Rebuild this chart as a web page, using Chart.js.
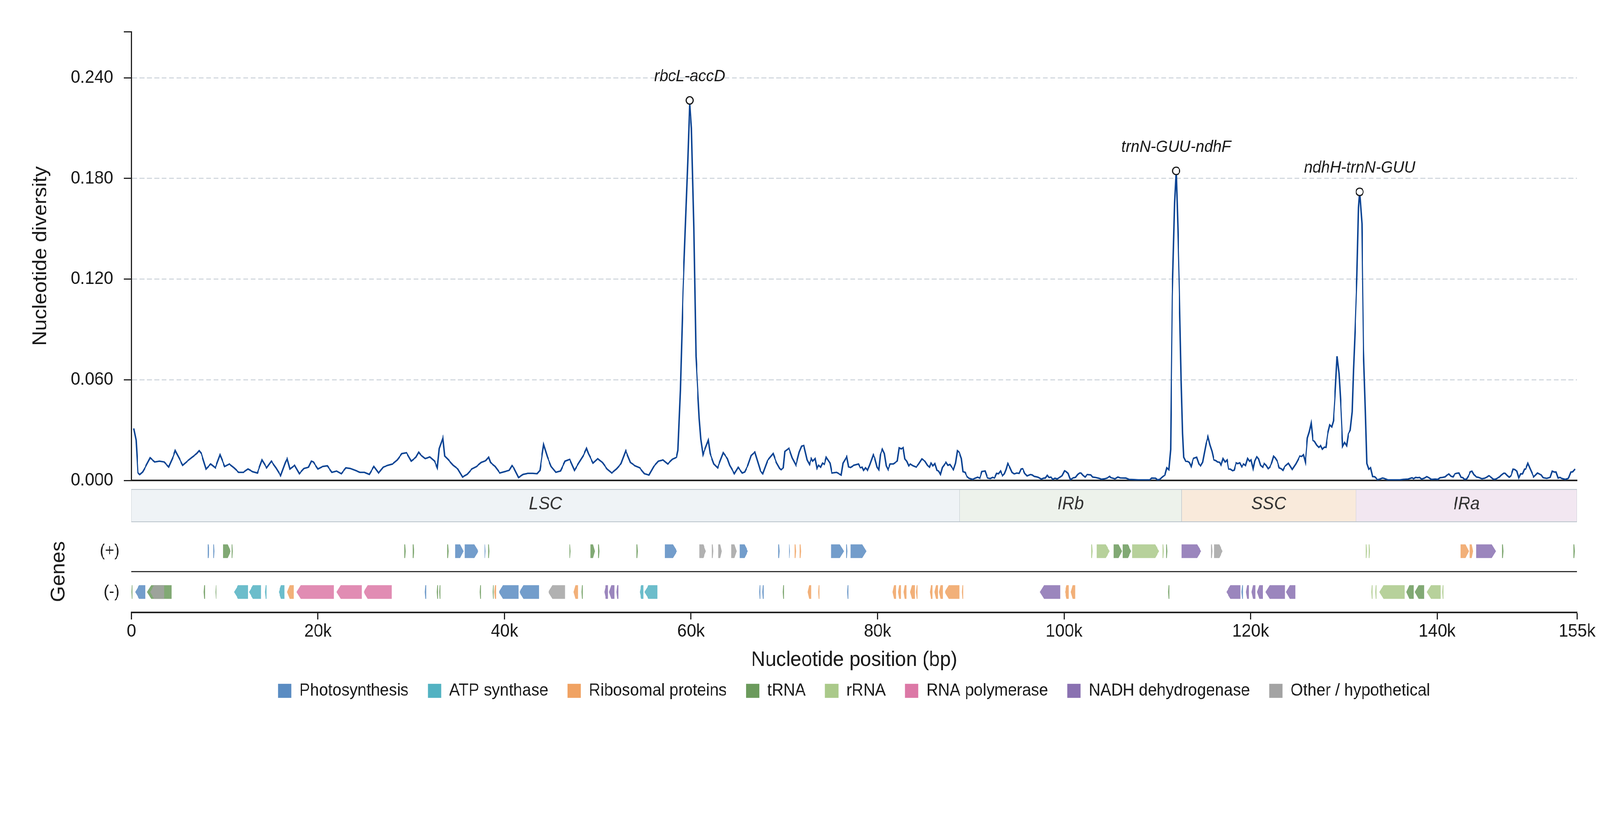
<!DOCTYPE html>
<html><head><meta charset="utf-8">
<script src="https://cdn.jsdelivr.net/npm/chart.js@4.4.1/dist/chart.umd.min.js"></script>
<style>
html,body{margin:0;padding:0;background:#fff;overflow:hidden}
#stage{position:absolute;left:0;top:0;width:4322px;height:2102px;transform-origin:0 0;background:#fff}
.box{position:absolute}
</style></head><body>
<div id="stage">
<div class="box" style="left:0;top:0;width:4322px;height:1245px"><canvas id="cDiv"></canvas></div>
<div class="box" style="left:0;top:1245px;width:4322px;height:100px"><canvas id="cReg"></canvas></div>
<div class="box" style="left:0;top:1340px;width:4322px;height:400px"><canvas id="cGene"></canvas></div>
<div class="box" style="left:507px;top:1695px;width:3600px;height:200px"><canvas id="cLeg"></canvas></div>
</div>
<script>
// ---------------- data ----------------
const positionsKb = [
0.25,0.5,0.7,0.9,1.2,1.5,2.0,2.5,3.0,3.5,
4.0,4.5,4.7,5.0,5.5,6.0,6.5,7.0,7.26,7.5,
8.0,8.5,9.0,9.5,10.0,10.5,11.0,11.5,12.0,12.5,
13.0,13.5,14.0,14.5,15.0,15.5,16.0,16.5,16.7,17.0,
17.5,18.0,18.5,19.0,19.3,19.5,20.0,20.5,21.0,21.5,
22.0,22.5,23.0,23.5,24.0,24.5,25.0,25.5,26.0,
26.5,27.0,27.5,28.0,28.5,29.0,29.5,30.0,30.5,30.8,
31.0,31.5,32.0,32.5,32.8,33.0,33.4,33.6,34.0,34.5,
35.0,35.5,36.0,36.5,37.0,37.5,38.0,38.3,38.5,39.0,
39.5,40.0,40.5,40.8,41.0,41.5,42.0,42.5,43.0,43.5,
43.8,44.2,44.6,45.0,45.5,46.0,46.5,47.0,47.5,48.0,
48.5,48.8,49.0,49.5,50.0,50.5,51.0,51.5,52.0,52.5,
53.0,53.5,54.0,54.5,55.0,55.5,56.0,56.5,57.0,57.5,
58.0,58.45,58.6,58.86,59.14,59.42,59.65,59.86,60.05,60.3,
60.53,60.88,61.05,61.28,61.85,62.05,62.45,62.85,63.45,63.9,
64.15,64.65,65.05,65.5,65.75,66.1,66.45,66.85,67.1,67.45,
67.7,68.2,68.8,69.15,69.5,69.65,69.9,70.07,70.5,70.85,
71.25,71.6,71.85,72.1,72.45,72.7,72.9,73.05,73.3,73.5,
73.7,73.9,74.1,74.3,74.5,74.9,75.1,75.6,76.1,76.3,
76.7,76.9,77.1,77.45,77.95,78.15,78.35,78.5,78.7,
78.93,79.15,79.54,79.7,79.95,80.13,80.3,80.52,80.73,80.93,
81.13,81.35,81.69,82.12,82.32,82.53,82.75,82.93,83.13,83.34,
83.51,83.81,84.15,84.41,84.75,85.09,85.35,85.56,85.73,85.94,
86.14,86.36,86.56,86.75,86.95,87.34,87.55,87.75,88.14,88.36,
88.56,88.77,88.99,89.16,89.38,89.58,89.79,90.17,90.46,90.73,
90.97,91.19,91.53,91.78,92.09,92.33,92.55,92.77,92.97,93.18,
93.4,93.6,93.77,93.96,94.16,94.42,94.64,94.93,95.18,95.39,
95.57,95.78,96.03,96.37,96.58,96.8,97.22,97.56,97.82,98.0,
98.2,98.39,98.6,98.8,99.02,99.24,99.53,99.78,100.04,100.21,
100.43,100.67,100.97,101.22,101.45,101.65,101.82,102.03,102.25,102.47,
102.85,103.05,103.36,103.7,104.04,104.38,104.64,104.9,
105.0,105.46,105.77,106.02,106.62,106.95,107.46,107.97,108.65,109.16,
109.41,109.8,110.01,110.26,110.6,110.82,111.02,111.23,111.42,111.6,
111.85,112.02,112.2,112.35,112.56,112.7,112.82,113.03,113.26,113.43,
113.62,113.86,114.21,114.45,114.64,114.86,115.23,115.43,115.64,115.86,
116.06,116.28,116.45,116.67,116.83,117.05,117.27,117.47,117.64,117.84,
118.06,118.23,118.45,118.62,118.83,119.05,119.25,119.45,119.67,119.88,
120.05,120.27,120.44,120.66,120.86,121.07,121.29,121.46,121.66,121.88,
122.05,122.27,122.47,122.64,122.86,123.07,123.27,123.46,123.66,124.05,
124.46,124.85,125.07,125.27,125.48,125.66,125.87,126.09,126.29,126.49,
126.68,126.85,127.09,127.31,127.51,127.7,127.9,128.07,128.27,128.49,
128.7,128.88,
129.05,129.27,129.48,129.68,129.87,130.08,130.29,130.48,130.68,130.89,
131.03,131.2,131.4,131.57,131.69,131.93,132.1,132.3,132.46,132.66,
132.87,133.09,133.3,133.61,133.87,134.12,134.33,134.73,135.33,136.02,
136.36,136.88,137.31,137.48,137.7,137.9,138.12,138.34,138.6,138.89,
139.12,139.37,139.8,140.06,140.29,140.58,140.84,141.04,141.27,141.49,
141.7,141.9,142.13,142.33,142.56,142.75,142.94,143.15,143.38,143.56,
143.73,143.93,144.19,144.45,144.79,145.1,145.31,145.54,145.74,146.0,
146.17,146.43,146.69,146.86,147.12,147.29,147.52,147.72,147.93,148.15,
148.32,148.53,148.75,148.96,149.15,149.36,149.49,149.73,149.96,150.35,
150.53,150.75,150.96,151.16,151.37,151.76,152.11,152.33,152.54,152.75,
152.97,153.14,153.37,153.74,154.09,154.35,154.52,154.78
];
const diversity = [
0.031,0.024,0.0045,0.0035,0.005,0.008,0.0135,0.011,0.0115,0.011,
0.008,0.0145,0.0178,0.0145,0.009,0.0115,0.0138,0.016,0.0177,0.016,
0.0068,0.0098,0.0075,0.0153,0.0083,0.0098,0.0075,0.0048,0.0048,0.0068,
0.0052,0.0044,0.0122,0.0075,0.0115,0.0075,0.0028,0.0107,0.013,0.0068,
0.009,0.004,0.0071,0.0079,0.0115,0.011,0.0068,0.0083,0.0087,0.0048,
0.0056,0.004,0.0075,0.0071,0.006,0.0048,0.0048,0.0036,0.0083,
0.0044,0.0079,0.009,0.0098,0.0122,0.016,0.0165,0.0115,0.0138,0.0168,
0.0153,0.013,0.014,0.0115,0.0075,0.019,0.0255,0.0145,0.0122,0.009,
0.0068,0.002,0.0036,0.0068,0.0083,0.0107,0.0118,0.0138,0.0107,0.0083,
0.0044,0.0052,0.006,0.0088,0.0075,0.0017,0.0036,0.0042,0.0042,0.004,
0.006,0.0214,0.014,0.0083,0.0048,0.0056,0.0115,0.0126,0.006,0.0107,
0.0153,0.0191,0.016,0.0103,0.013,0.0107,0.0068,0.0044,0.0068,0.010,
0.0177,0.0107,0.0087,0.0075,0.004,0.0032,0.0083,0.0115,0.0122,0.0098,
0.0126,0.0138,0.018,0.054,0.112,0.155,0.19,0.2265,0.21,0.151,
0.074,0.037,0.0246,0.0153,0.024,0.016,0.0098,0.0075,0.0165,0.013,
0.009,0.004,0.0078,0.0044,0.005,0.009,0.0149,0.0169,0.0122,0.0056,
0.004,0.0118,0.016,0.0107,0.0071,0.0064,0.0075,0.0173,0.0192,0.0134,
0.009,0.0169,0.0204,0.0208,0.0122,0.0095,0.0131,0.0115,0.013,0.0071,
0.009,0.0079,0.0103,0.0095,0.0138,0.0103,0.0044,0.0048,0.0032,0.0103,
0.0142,0.0081,0.0077,0.009,0.0098,0.0075,0.0079,0.006,0.0075,
0.006,0.009,0.0153,0.0134,0.0079,0.0064,0.0153,0.0186,0.016,0.0087,
0.0064,0.0098,0.0098,0.0116,0.0194,0.0188,0.0196,0.0128,0.0114,0.0087,
0.0098,0.0087,0.0079,0.0098,0.0128,0.0114,0.009,0.0079,0.0105,0.0087,
0.01,0.006,0.0056,0.0036,0.0077,0.0108,0.009,0.0095,0.0064,0.0103,
0.0177,0.0167,0.013,0.0052,0.0048,0.0024,0.0013,0.0006,0.0013,0.0019,
0.0013,0.0053,0.0056,0.0015,0.0011,0.0018,0.0014,0.0042,0.004,0.0056,
0.0028,0.004,0.0064,0.0101,0.0081,0.0048,0.0039,0.0044,0.0042,0.0068,
0.007,0.0042,0.0027,0.0035,0.0033,0.0024,0.0019,0.0008,0.0014,0.0014,
0.003,0.0017,0.002,0.0006,0.0013,0.0009,0.0018,0.0028,0.0057,0.0053,
0.0042,0.0005,0.0015,0.0018,0.0035,0.0044,0.0044,0.003,0.002,0.0035,
0.0033,0.002,0.0018,0.0013,0.0007,0.001,0.0015,0.0024,
0.0017,0.0009,0.002,0.0015,0.0014,0.0006,0.0005,0.0003,0.0003,0.0003,
0.0014,0.0013,0.0003,0.0006,0.0024,0.0032,0.0075,0.0064,0.0185,0.11,
0.165,0.1845,0.15,0.115,0.058,0.028,0.0138,0.0114,0.0113,0.0107,
0.0083,0.0131,0.0138,0.0098,0.0087,0.0108,0.022,0.0261,0.0212,0.0173,
0.0122,0.0118,0.011,0.0108,0.009,0.013,0.011,0.0122,0.0068,0.0067,
0.0058,0.0061,0.0105,0.01,0.0105,0.0081,0.0098,0.0089,0.0131,0.0113,
0.0122,0.007,0.0116,0.0142,0.0128,0.009,0.0079,0.0101,0.009,0.007,
0.0079,0.0105,0.0144,0.0134,0.0114,0.0075,0.007,0.006,0.0083,0.0102,
0.0064,0.0098,0.0122,0.0145,0.0143,0.0153,0.0108,0.0253,0.029,0.0341,
0.0238,0.0233,0.021,0.0197,0.0208,0.0186,0.0198,0.0197,0.0278,0.0331,
0.0319,0.0355,
0.0502,0.074,0.0636,0.0441,0.0203,0.0226,0.0207,0.0278,0.0299,0.0409,
0.0659,0.09,0.122,0.1627,0.172,0.153,0.078,0.042,0.0101,0.0067,
0.0076,0.0023,0.0022,0.0004,0.0008,0.0014,0.0012,0.0003,0.0003,0.0003,
0.0006,0.0008,0.0016,0.001,0.0018,0.0016,0.0018,0.0008,0.0013,0.0023,
0.0016,0.0006,0.0008,0.0006,0.0016,0.0018,0.0021,0.0031,0.0038,0.0025,
0.0021,0.0039,0.0043,0.0044,0.0018,0.0017,0.0006,0.0008,0.0029,0.0051,
0.0055,0.0035,0.0021,0.0018,0.001,0.0013,0.0019,0.0028,0.0021,0.0008,
0.0006,0.0012,0.0021,0.0031,0.0043,0.0043,0.0029,0.0019,0.0029,0.0067,
0.0065,0.0055,0.0013,0.0039,0.0039,0.0067,0.0067,0.0102,0.0071,0.0021,
0.0031,0.0044,0.0038,0.0033,0.0016,0.0012,0.0018,0.0055,0.005,0.005,
0.0014,0.0018,0.0012,0.0006,0.0013,0.005,0.0051,0.0068
];

const peakPositionsKb = [59.86, 112.02, 131.69];
const peakLabels = ['rbcL-accD', 'trnN-GUU-ndhF', 'ndhH-trnN-GUU'];

const yTicks = [0, 0.06, 0.12, 0.18, 0.24];
const yAxisMax = 0.2675;
const xTicksKb = [0, 20, 40, 60, 80, 100, 120, 140, 155];
const genomeLengthKb = 155;

const regionNames = ['LSC', 'IRb', 'SSC', 'IRa'];
const regionStartKb = [0, 88.8, 112.6, 131.3];
const regionEndKb = [88.8, 112.6, 131.3, 155];

const categories = ['Photosynthesis', 'ATP synthase', 'Ribosomal proteins', 'tRNA', 'rRNA', 'RNA polymerase', 'NADH dehydrogenase', 'Other / hypothetical'];

// genes on (+) strand
const plusGeneStartKb = [8.17,8.77,9.84,10.76,29.25,30.15,33.85,34.7,35.75,37.85,
38.25,46.95,49.2,50.05,54.15,57.2,60.9,62.25,62.9,64.3,
65.2,69.35,70.5,71.1,71.65,75.0,76.65,77.1,102.9,103.5,
105.3,106.3,107.3,110.55,110.95,112.6,115.75,116.1,132.35,132.65,
142.5,143.5,144.2,146.95,154.6];
const plusGeneEndKb = [8.33,8.89,10.64,10.87,29.4,30.3,34.0,35.6,37.2,37.98,
38.38,47.1,49.7,50.2,54.3,58.5,61.6,62.4,63.3,64.9,
66.1,69.5,70.62,71.25,71.8,76.4,76.78,78.8,103.05,104.9,
106.2,107.2,110.2,110.68,111.08,114.7,115.9,117.0,132.48,132.78,
143.4,143.85,146.3,147.1,154.75];
const plusGeneCategory = [0,0,3,3,3,3,3,0,0,0,
3,3,3,3,3,0,7,7,7,7,
0,0,0,2,2,0,0,0,4,4,
3,3,4,4,3,6,7,7,4,4,
2,2,6,3,3];
// genes on (-) strand
const minusGeneStartKb = [0.0,0.4,1.67,2.0,7.75,9.0,11.0,12.6,14.3,15.8,
16.7,17.7,22.0,24.9,31.45,32.75,33.0,37.35,38.75,38.9,
39.4,41.6,44.7,47.4,48.25,50.7,51.2,52.0,54.5,55.0,
67.3,67.65,69.85,72.5,73.65,76.75,81.6,82.2,82.8,83.5,
84.1,85.6,86.1,86.6,87.2,89.05,97.4,100.1,100.7,111.15,
117.4,119.0,119.5,120.1,120.7,121.6,123.8,132.95,133.35,133.8,
136.7,137.6,138.9,140.55];
const minusGeneEndKb = [0.12,1.47,4.3,3.5,7.9,9.12,12.5,13.9,14.5,16.4,
17.4,21.7,24.7,27.9,31.6,32.88,33.12,37.48,38.85,39.1,
41.5,43.7,46.5,47.9,48.38,51.1,51.8,52.2,54.9,56.4,
67.42,67.8,69.98,72.9,73.78,76.88,82.0,82.5,83.1,84.0,
84.3,85.9,86.5,87.0,88.8,89.18,99.6,100.5,101.2,111.28,
118.9,119.2,119.8,120.5,121.3,123.7,124.8,133.08,133.48,136.5,
137.5,138.6,140.4,140.68];
const minusGeneCategory = [3,0,3,7,3,3,1,1,1,1,
2,5,5,5,0,3,3,3,3,2,
0,0,7,2,3,6,6,6,1,1,
0,0,3,2,2,0,2,2,2,2,
2,2,2,2,2,2,6,2,2,3,
6,0,6,6,6,6,6,4,4,4,
3,3,4,4];

// ---------------- fit the 4322x2102 stage into the actual viewport ----------------
const W0 = 4322, H0 = 2102;
document.getElementById('stage').style.transform =
  `scale(${window.innerWidth / W0}, ${window.innerHeight / H0})`;

// ---------------- styles ----------------
const FONT = "'Liberation Sans', Arial, Helvetica, sans-serif";
const TEXT = '#1a1a1a';
const categoryColors = ['#5a8cc2', '#52b2c2', '#f0a262', '#6b9a5c', '#aac98a', '#dc78a6', '#8a71b1', '#a3a3a3'];
const regionColors = ['#eff3f6', '#edf2eb', '#f9eadb', '#f2e7f1'];
function withAlpha(hex, a) {
  const n = parseInt(hex.slice(1), 16);
  return `rgba(${(n >> 16) & 255},${(n >> 8) & 255},${n & 255},${a})`;
}
Chart.defaults.font.family = FONT;
Chart.defaults.color = TEXT;
const noPad = s => { s.paddingTop = 0; s.paddingBottom = 0; s.paddingLeft = 0; s.paddingRight = 0; };

// ---------------- plugins ----------------
const peakLabelPlugin = {
  id: 'peakLabels',
  afterDatasetsDraw(chart) {
    const meta = chart.getDatasetMeta(1);
    const ctx = chart.ctx;
    ctx.save();
    ctx.font = `italic 42px ${FONT}`;
    ctx.fillStyle = TEXT;
    ctx.textAlign = 'center';
    ctx.textBaseline = 'alphabetic';
    meta.data.forEach((pt, i) => { ctx.fillText(peakLabels[i], pt.x, pt.y - 49); });
    ctx.restore();
  }
};
const regionLabelPlugin = {
  id: 'regionLabels',
  afterDatasetsDraw(chart) {
    const meta = chart.getDatasetMeta(0);
    const ctx = chart.ctx;
    ctx.save();
    ctx.font = `italic 46px ${FONT}`;
    ctx.fillStyle = '#333';
    ctx.textAlign = 'center';
    ctx.textBaseline = 'middle';
    meta.data.forEach((el, i) => {
      const p = el.getProps(['x', 'base', 'y'], true);
      ctx.fillText(regionNames[i], (p.x + p.base) / 2, p.y - 3);
    });
    ctx.restore();
  }
};
const geneArrowPlugin = {
  id: 'geneArrows',
  beforeDatasetsDraw(chart) {
    const ctx = chart.ctx;
    ctx.save();
    chart.data.datasets.forEach((ds, di) => {
      const meta = chart.getDatasetMeta(di);
      meta.data.forEach((el, j) => {
        const p = el.getProps(['x', 'base', 'y', 'height'], true);
        const l = Math.min(p.x, p.base), r = Math.max(p.x, p.base);
        const w = r - l, top = p.y - p.height / 2, bot = p.y + p.height / 2;
        const head = Math.min(w * 0.4, 11);
        const plus = ds.data[j].y === '(+)';
        ctx.beginPath();
        if (plus) {
          ctx.moveTo(l, top); ctx.lineTo(r - head, top); ctx.lineTo(r, p.y);
          ctx.lineTo(r - head, bot); ctx.lineTo(l, bot);
        } else {
          ctx.moveTo(r, top); ctx.lineTo(l + head, top); ctx.lineTo(l, p.y);
          ctx.lineTo(l + head, bot); ctx.lineTo(r, bot);
        }
        ctx.closePath();
        ctx.fillStyle = ds.backgroundColor;
        ctx.fill();
      });
    });
    ctx.restore();
    return false;
  }
};

// ---------------- chart 1: nucleotide diversity ----------------
const linePoints = positionsKb.map((p, i) => ({ x: p, y: diversity[i] }));
const peakPoints = peakPositionsKb.map(p => ({ x: p, y: diversity[positionsKb.indexOf(p)] }));

new Chart(document.getElementById('cDiv'), {
  type: 'line',
  data: {
    datasets: [
      { label: 'Pi', data: linePoints, borderColor: '#0b4393', borderWidth: 3.8, pointRadius: 0, tension: 0, fill: false, order: 2 },
      { label: 'peaks', data: peakPoints, showLine: false, pointRadius: 9.5, pointBorderWidth: 3, pointBorderColor: '#1a1a1a', pointBackgroundColor: '#ffffff', order: 1 }
    ]
  },
  options: {
    responsive: true, maintainAspectRatio: false, animation: false,
    layout: { padding: { top: 81, right: 62, bottom: 15, left: 0 } },
    plugins: { legend: { display: false }, tooltip: { enabled: false } },
    scales: {
      x: {
        type: 'linear', min: 0, max: genomeLengthKb,
        ticks: { display: false },
        grid: { display: true, drawOnChartArea: false, drawTicks: false },
        border: { display: true, color: '#222', width: 4 },
        afterFit: s => { s.height = 0; noPad(s); }
      },
      y: {
        min: 0, max: yAxisMax,
        afterBuildTicks: s => { s.ticks = yTicks.concat([yAxisMax]).map(v => ({ value: v })); },
        ticks: {
          callback: v => yTicks.includes(v) ? v.toFixed(3) : '',
          font: { size: 46 }, color: TEXT, padding: 29
        },
        grid: {
          color: c => (c.tick && c.tick.value > 0 && c.tick.value < yAxisMax - 1e-9) ? '#d3d9df' : 'rgba(0,0,0,0)',
          lineWidth: 3, drawTicks: true, tickLength: 20, tickWidth: 3, tickColor: '#222'
        },
        border: { display: true, color: '#222', width: 3, dash: [13, 7] },
        title: { display: true, text: 'Nucleotide diversity', font: { size: 53 }, color: TEXT, padding: { top: 79, bottom: 0 } },
        afterFit: s => { s.width = 355; noPad(s); }
      }
    }
  },
  plugins: [peakLabelPlugin]
});

// ---------------- chart 2: regions ----------------
new Chart(document.getElementById('cReg'), {
  type: 'bar',
  data: {
    labels: ['r'],
    datasets: [{
      data: regionStartKb.map((s, i) => ({ x: [s, regionEndKb[i]], y: 'r' })),
      backgroundColor: regionColors,
      borderColor: '#bcc5cd',
      borderWidth: { top: 2.5, bottom: 2.5, left: 1, right: 1 },
      borderSkipped: false,
      categoryPercentage: 1, barPercentage: 1, grouped: false
    }]
  },
  options: {
    indexAxis: 'y', responsive: true, maintainAspectRatio: false, animation: false,
    layout: { padding: { top: 7, bottom: 8, left: 355, right: 62 } },
    plugins: { legend: { display: false }, tooltip: { enabled: false } },
    scales: {
      x: { type: 'linear', min: 0, max: genomeLengthKb, display: false },
      y: { display: false }
    }
  },
  plugins: [regionLabelPlugin]
});

// ---------------- chart 3: genes ----------------
const geneDatasets = categories.map((c, ci) => {
  const data = [];
  plusGeneStartKb.forEach((s, i) => { if (plusGeneCategory[i] === ci) data.push({ x: [s, plusGeneEndKb[i]], y: '(+)' }); });
  minusGeneStartKb.forEach((s, i) => { if (minusGeneCategory[i] === ci) data.push({ x: [s, minusGeneEndKb[i]], y: '(-)' }); });
  return { label: c, data, backgroundColor: withAlpha(categoryColors[ci], 0.85), grouped: false, barThickness: 35 };
});

new Chart(document.getElementById('cGene'), {
  type: 'bar',
  data: { labels: ['(+)', '(-)'], datasets: geneDatasets },
  options: {
    indexAxis: 'y', responsive: true, maintainAspectRatio: false, animation: false,
    layout: { padding: { top: 19, right: 62, bottom: 0, left: 0 } },
    plugins: { legend: { display: false }, tooltip: { enabled: false } },
    scales: {
      x: {
        type: 'linear', min: 0, max: genomeLengthKb, position: 'bottom',
        afterBuildTicks: s => { s.ticks = xTicksKb.map(v => ({ value: v })); },
        ticks: { callback: v => v === 0 ? '0' : v + 'k', font: { size: 46 }, color: TEXT, padding: 4, maxRotation: 0, autoSkip: false },
        grid: { drawOnChartArea: false, drawTicks: true, tickLength: 18, tickWidth: 3, tickColor: '#222' },
        border: { display: true, color: '#222', width: 4 },
        title: { display: true, text: 'Nucleotide position (bp)', font: { size: 53 }, color: TEXT, padding: { top: 0, bottom: 18 } },
        afterFit: s => { s.height = 172; noPad(s); }
      },
      y: {
        type: 'category', labels: ['(+)', '(-)'], offset: true,
        grid: { offset: true, color: c => c.index === 1 ? '#333' : 'rgba(0,0,0,0)', lineWidth: 3, drawTicks: false },
        border: { display: false },
        ticks: { font: { size: 43 }, color: TEXT, padding: 32 },
        title: { display: true, text: 'Genes', font: { size: 53 }, color: TEXT, padding: { top: 128, bottom: 0 } },
        afterFit: s => { s.width = 355; noPad(s); }
      }
    }
  },
  plugins: [geneArrowPlugin]
});

// ---------------- chart 4: legend ----------------
new Chart(document.getElementById('cLeg'), {
  type: 'bar',
  data: { labels: [], datasets: categories.map((c, i) => ({ label: c, data: [], backgroundColor: categoryColors[i], borderWidth: 0 })) },
  options: {
    responsive: true, maintainAspectRatio: false, animation: false,
    layout: { padding: 0 },
    scales: { x: { display: false }, y: { display: false } },
    plugins: {
      tooltip: { enabled: false },
      legend: {
        display: true, position: 'top', align: 'center',
        labels: { boxWidth: 36, boxHeight: 36, padding: 52, font: { size: 43.5 }, color: TEXT }
      }
    }
  }
});
</script></body></html>
